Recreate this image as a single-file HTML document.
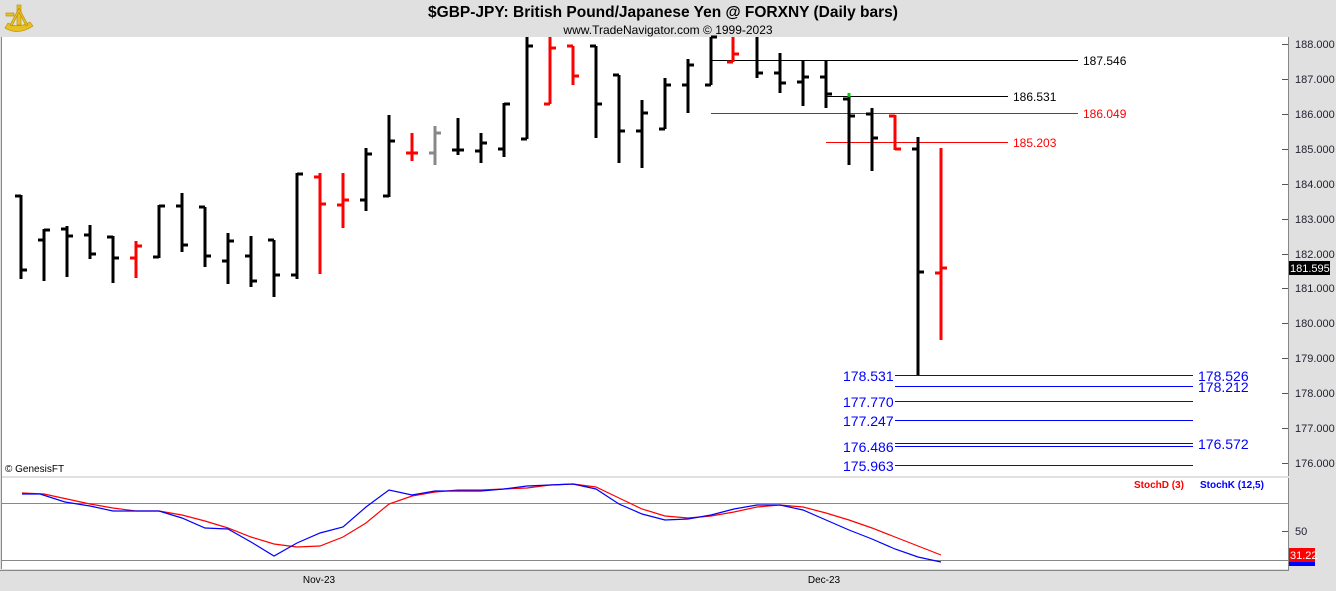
<!DOCTYPE html>
<html><head><meta charset="utf-8"><style>
html,body{margin:0;padding:0;background:#e0e0e0;}
svg{display:block;font-family:"Liberation Sans",Arial,sans-serif;}
</style></head><body>
<svg width="1336" height="591" viewBox="0 0 1336 591" xmlns="http://www.w3.org/2000/svg">
<rect x="0" y="0" width="1336" height="591" fill="#e0e0e0"/>
<rect x="2" y="37" width="1286" height="439" fill="#fff"/>
<rect x="2" y="478" width="1286" height="91" fill="#fff"/>
<line x1="1.5" y1="37" x2="1.5" y2="569" stroke="#888"/>
<line x1="1288.5" y1="37" x2="1288.5" y2="476" stroke="#888"/>
<line x1="1288.5" y1="478" x2="1288.5" y2="571" stroke="#888"/>
<line x1="0" y1="570.5" x2="1289" y2="570.5" stroke="#888"/>
<!-- logo -->
<g fill="#e8c020" stroke="#b08a00" stroke-width="0.6">
<path d="M5 28 Q18 36 33 26 L30 22 Q18 29 8 23 Z"/>
<rect x="17" y="5" width="4" height="20"/>
<path d="M19 8 L10 25 L12 26 L19 12 L26 26 L28 25 Z"/>
<rect x="6" y="13" width="8" height="3"/>
</g>
<text x="663" y="17" text-anchor="middle" font-size="15.5" font-weight="bold">$GBP-JPY:  British Pound/Japanese Yen @ FORXNY  (Daily bars)</text>
<text x="668" y="34" text-anchor="middle" font-size="12">www.TradeNavigator.com © 1999-2023</text>
<!-- right axis -->
<g font-size="11" fill="#223">
<g stroke="#555" stroke-width="1">
<line x1="1282" y1="44.5" x2="1288" y2="44.5"/><line x1="1282" y1="79.5" x2="1288" y2="79.5"/><line x1="1282" y1="114.5" x2="1288" y2="114.5"/><line x1="1282" y1="149.5" x2="1288" y2="149.5"/><line x1="1282" y1="184.5" x2="1288" y2="184.5"/><line x1="1282" y1="219.5" x2="1288" y2="219.5"/><line x1="1282" y1="254.5" x2="1288" y2="254.5"/><line x1="1282" y1="288.5" x2="1288" y2="288.5"/><line x1="1282" y1="323.5" x2="1288" y2="323.5"/><line x1="1282" y1="358.5" x2="1288" y2="358.5"/><line x1="1282" y1="393.5" x2="1288" y2="393.5"/><line x1="1282" y1="428.5" x2="1288" y2="428.5"/><line x1="1282" y1="463.5" x2="1288" y2="463.5"/>
<line x1="1282" y1="531.5" x2="1288" y2="531.5"/>
</g>
<text x="1295" y="48">188.000</text><text x="1295" y="83">187.000</text><text x="1295" y="118">186.000</text><text x="1295" y="153">185.000</text><text x="1295" y="188">184.000</text><text x="1295" y="223">183.000</text><text x="1295" y="258">182.000</text><text x="1295" y="292">181.000</text><text x="1295" y="327">180.000</text><text x="1295" y="362">179.000</text><text x="1295" y="397">178.000</text><text x="1295" y="432">177.000</text><text x="1295" y="467">176.000</text>
<text x="1295" y="535">50</text>
</g>
<rect x="1289" y="261" width="41" height="14" fill="#000"/>
<text x="1290" y="272" font-size="11" fill="#fff">181.595</text>
<rect x="1289" y="561" width="26" height="5" fill="#0000ff"/>
<rect x="1289" y="548" width="26" height="14" fill="#f00"/>
<text x="1290" y="559" font-size="11" fill="#fff">31.22</text>
<text x="319" y="583" text-anchor="middle" font-size="10">Nov-23</text>
<text x="824" y="583" text-anchor="middle" font-size="10">Dec-23</text>
<text x="5" y="472" font-size="10">© GenesisFT</text>
<!-- level lines -->
<line x1="711" y1="60.5" x2="1078" y2="60.5" stroke="#000"/>
<text x="1083" y="65" font-size="12">187.546</text>
<line x1="826" y1="96.5" x2="1008" y2="96.5" stroke="#000"/>
<text x="1013" y="101" font-size="12">186.531</text>
<line x1="711" y1="113.5" x2="1078" y2="113.5" stroke="#f00"/>
<text x="1083" y="118" font-size="12" fill="#f00">186.049</text>
<line x1="826" y1="142.5" x2="1008" y2="142.5" stroke="#f00"/>
<text x="1013" y="147" font-size="12" fill="#f00">185.203</text>
<g stroke="#0000ff">
<line x1="895" y1="375.5" x2="1193" y2="375.5"/>
<line x1="895" y1="386.5" x2="1193" y2="386.5"/>
<line x1="895" y1="401.5" x2="1193" y2="401.5"/>
<line x1="895" y1="420.5" x2="1193" y2="420.5"/>
<line x1="895" y1="443.5" x2="1193" y2="443.5"/>
<line x1="895" y1="446.5" x2="1193" y2="446.5"/>
<line x1="895" y1="465.5" x2="1193" y2="465.5"/>
</g>
<g fill="#0000ff" font-size="14">
<text x="843" y="381">178.531</text>
<text x="843" y="407">177.770</text>
<text x="843" y="426">177.247</text>
<text x="843" y="452">176.486</text>
<text x="843" y="471">175.963</text>
<text x="1198" y="381">178.526</text>
<text x="1198" y="392">178.212</text>
<text x="1198" y="449">176.572</text>
</g>
<!-- stoch -->
<line x1="2" y1="503.5" x2="1288" y2="503.5" stroke="#888"/>
<line x1="2" y1="560.5" x2="1288" y2="560.5" stroke="#888"/>
<text x="1134" y="488" font-size="10" font-weight="bold" fill="#f00">StochD (3)</text>
<text x="1200" y="488" font-size="10" font-weight="bold" fill="#0000ff">StochK (12,5)</text>
<polyline fill="none" stroke="#f00" stroke-width="1.2" points="22,493 44,494 67,499 90,504 113,508 136,511 159,511 182,515 205,521 228,528 251,537 274,544 297,547 320,546 343,537 366,523 389,504 412,496 435,492 458,490 481,490 504,489 527,488 550,485 573,484 596,487 619,498 642,509 665,516 688,518 711,516 734,512 757,507 780,505 803,507 826,513 849,520 872,528 895,537 918,546 941,555"/>
<polyline fill="none" stroke="#0000ff" stroke-width="1.2" points="22,494 40,494 65,502 90,506 113,511 136,511 159,511 182,518 205,528 228,529 251,542 274,556 297,543 320,533 343,527 366,507 389,490 412,495 435,491 458,491 481,491 504,489 527,486 550,485 573,484 596,489 619,504 642,514 665,520 688,519 711,515 734,509 757,505 780,505 803,510 826,520 849,530 872,539 895,549 918,557 941,562"/>
<g stroke-width="3">
<path stroke="#000" d="M21 195V279M15 196H21M21 270H27"/>
<path stroke="#000" d="M44 229V281M38 240H44M44 230H50"/>
<path stroke="#000" d="M67 226V277M61 229H67M67 236H73"/>
<path stroke="#000" d="M90 225V259M84 235H90M90 254H96"/>
<path stroke="#000" d="M113 236V283M107 237H113M113 258H119"/>
<path stroke="#f00" d="M136 241V278M130 258H136M136 246H142"/>
<path stroke="#000" d="M159 205V258M153 257H159M159 206H165"/>
<path stroke="#000" d="M182 193V252M176 206H182M182 245H188"/>
<path stroke="#000" d="M205 207V267M199 207H205M205 256H211"/>
<path stroke="#000" d="M228 233V284M222 261H228M228 241H234"/>
<path stroke="#000" d="M251 236V287M245 256H251M251 281H257"/>
<path stroke="#000" d="M274 240V297M268 240H274M274 275H280"/>
<path stroke="#000" d="M297 173V279M291 275H297M297 174H303"/>
<path stroke="#f00" d="M320 173V274M314 177H320M320 204H326"/>
<path stroke="#f00" d="M343 173V228M337 205H343M343 200H349"/>
<path stroke="#000" d="M366 148V211M360 200H366M366 154H372"/>
<path stroke="#000" d="M389 115V197M383 196H389M389 141H395"/>
<path stroke="#f00" d="M412 133V161M406 153H412M412 153H418"/>
<path stroke="#888" d="M435 126V165M429 153H435M435 133H441"/>
<path stroke="#000" d="M458 118V155M452 150H458M458 150H464"/>
<path stroke="#000" d="M481 133V163M475 151H481M481 143H487"/>
<path stroke="#000" d="M504 103V157M498 149H504M504 104H510"/>
<path stroke="#000" d="M527 37V139M521 139H527M527 46H533"/>
<path stroke="#f00" d="M550 37V104M544 104H550M550 48H556"/>
<path stroke="#f00" d="M573 46V85M567 46H573M573 76H579"/>
<path stroke="#000" d="M596 46V138M590 46H596M596 104H602"/>
<path stroke="#000" d="M619 75V163M613 75H619M619 131H625"/>
<path stroke="#000" d="M642 100V168M636 131H642M642 113H648"/>
<path stroke="#000" d="M665 78V129M659 129H665M665 85H671"/>
<path stroke="#000" d="M688 59V113M682 85H688M688 65H694"/>
<path stroke="#000" d="M711 37V85M705 85H711M711 37H717"/>
<path stroke="#f00" d="M733 37V62M727 62H733M733 54H739"/>
<path stroke="#000" d="M757 37V78M757 73H763"/>
<path stroke="#000" d="M780 53V93M774 73H780M780 83H786"/>
<path stroke="#000" d="M803 61V106M797 82H803M803 77H809"/>
<path stroke="#000" d="M826 61V108M820 77H826M826 94H832"/>
<path stroke="#000" d="M849 95V165M843 99H849M849 116H855"/>
<path stroke="#0c0" d="M849 93V97"/>
<path stroke="#000" d="M872 108V171M866 114H872M872 138H878"/>
<path stroke="#f00" d="M895 115V150M889 116H895M895 149H901"/>
<path stroke="#000" d="M918 137V375M912 149H918M918 272H924"/>
<path stroke="#f00" d="M941 148V340M935 273H941M941 268H947"/>
</g>
</svg>
</body></html>
